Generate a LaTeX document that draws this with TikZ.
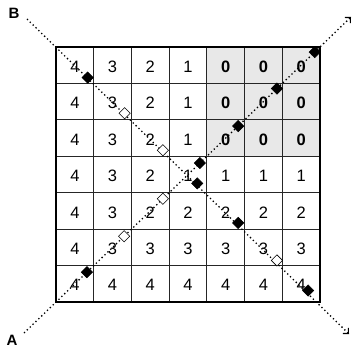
\documentclass[tikz,border=0pt]{standalone}
\usepackage{fontspec}
\setmainfont{Liberation Sans}
\usetikzlibrary{shapes.geometric,arrows.meta,calc}
\begin{document}
\begin{tikzpicture}[x=1pt,y=-1pt,
  gridline/.style={line width=0.9pt,black!85},
  border/.style={line width=2.4pt,black,line join=miter},
  dotline/.style={line width=1.3pt,dash pattern=on 1.3pt off 2.7pt,black},
  tip/.style={-{Straight Barb[length=4pt,width=8pt,line width=1.1pt]}},
  num/.style={inner sep=0pt,font=\fontsize{16.5}{16.5}\selectfont},
  zero/.style={num,font=\fontsize{16.5}{16.5}\selectfont\bfseries},
  lab/.style={inner sep=0pt,font=\fontsize{15}{15}\selectfont\bfseries},
  mkfull/.style={diamond,draw=black,fill=black,line width=0.6pt,minimum width=11.5pt,minimum height=11.5pt,inner sep=0pt},
  mkopen/.style={diamond,draw=black,fill=white,line width=0.6pt,minimum width=11.5pt,minimum height=11.5pt,inner sep=0pt}]
\useasboundingbox (0,0) rectangle (355,350);
\def\gx{56}\def\gy{47}\def\cw{37.714}\def\ch{36.43}
% shaded zero region
\fill[black!9] (\gx+4*\cw,\gy) rectangle (320,\gy+3*\ch);
% inner grid lines
\foreach \i in {1,...,6}{
  \draw[gridline] (\gx+\i*\cw,\gy) -- (\gx+\i*\cw,302);
  \draw[gridline] (\gx,\gy+\i*\ch) -- (320,\gy+\i*\ch);
}
% cell values
\foreach \row [count=\r from 0] in {{4,3,2,1,0,0,0},{4,3,2,1,0,0,0},{4,3,2,1,0,0,0},{4,3,2,1,1,1,1},{4,3,2,2,2,2,2},{4,3,3,3,3,3,3},{4,4,4,4,4,4,4}}{
  \foreach \v [count=\c from 0] in \row {
    \ifnum\v=0
      \node[zero] (c-\r-\c) at (\gx+\c*\cw+0.5*\cw,\gy+\r*\ch+0.5*\ch+1.5) {\v};
    \else
      \node[num] (c-\r-\c) at (\gx+\c*\cw+0.5*\cw,\gy+\r*\ch+0.5*\ch+1.5) {\v};
    \fi
  }
}
% outer border
\draw[border] (\gx,\gy) rectangle (320,302);
% diagonal coordinates
\coordinate (bstart) at (27,19);
\coordinate (tl) at (56,47);
\coordinate (br) at (320,302);
\coordinate (bend) at (349,334);
\coordinate (astart) at (24,333);
\coordinate (bl) at (56,302);
\coordinate (tr) at (320,47);
\coordinate (aend) at (351,17);
% labels
\node[lab] (B) at (14,13) {B};
\node[lab] (A) at (12,340) {A};
% diagonals
\draw[dotline,tip] (bstart) -- (bend);
\draw[dotline,tip] (astart) -- (aend);
% markers on B diagonal
\foreach \f/\s [count=\k] in {0.12/mkfull,0.26/mkopen,0.405/mkopen,0.535/mkfull,0.69/mkfull,0.837/mkopen,0.955/mkfull}{
  \node[\s] (b\k) at ($(tl)!\f!(br)$) {};
}
% markers on A diagonal
\foreach \f/\s [count=\k] in {0.117/mkfull,0.258/mkopen,0.405/mkopen,0.545/mkfull,0.69/mkfull,0.837/mkfull,0.98/mkfull}{
  \node[\s] (a\k) at ($(bl)!\f!(tr)$) {};
}
\end{tikzpicture}
\end{document}
